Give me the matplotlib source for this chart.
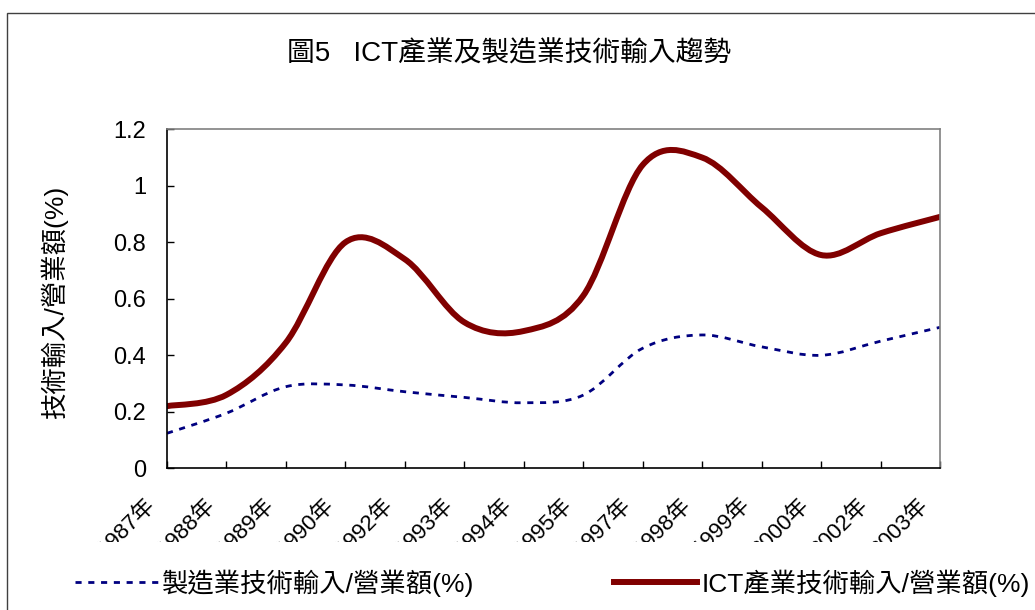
import numpy as np
import matplotlib
matplotlib.use("Agg")
import matplotlib.pyplot as plt
from matplotlib.path import Path
from matplotlib.patches import PathPatch, Rectangle
from matplotlib.lines import Line2D
from matplotlib.transforms import ScaledTranslation, Bbox, TransformedBbox

plt.rcParams['font.family'] = ['Liberation Sans', 'Noto Sans CJK TC', 'DejaVu Sans']

years = ["1987年", "1988年", "1989年", "1990年", "1992年", "1993年", "1994年",
         "1995年", "1997年", "1998年", "1999年", "2000年", "2002年", "2003年"]
mfg = [0.124, 0.195, 0.289, 0.295, 0.271, 0.251, 0.232,
       0.259, 0.425, 0.472, 0.43, 0.40, 0.45, 0.499]
ict = [0.22, 0.26, 0.445, 0.80, 0.74, 0.517, 0.486,
       0.611, 1.074, 1.10, 0.924, 0.755, 0.832, 0.89]
mfg_label = "製造業技術輸入/營業額(%)"
ict_label = "ICT產業技術輸入/營業額(%)"
title = "圖5   ICT產業及製造業技術輸入趨勢"
ylabel = "技術輸入/營業額(%)"


def smooth_path(xs, ys):
    # Excel-like smoothed line: cubic bezier through the points
    pts = np.column_stack([xs, ys]).astype(float)
    n = len(pts)
    verts = [pts[0]]
    codes = [Path.MOVETO]
    for i in range(n - 1):
        p0 = pts[i - 1] if i > 0 else pts[i]
        p1 = pts[i]
        p2 = pts[i + 1]
        p3 = pts[i + 2] if i + 2 < n else pts[i + 1]
        c1 = p1 + (p2 - p0) / 6.0
        c2 = p2 - (p3 - p1) / 6.0
        verts += [c1, c2, p2]
        codes += [Path.CURVE4] * 3
    return Path(verts, codes)


fig = plt.figure(figsize=(10.35, 6.1), dpi=100)
ax = fig.add_axes([167 / 1035, 1 - 468.3 / 610, 773 / 1035, 339 / 610])

x = np.arange(len(years))
ax.add_patch(PathPatch(smooth_path(x, mfg), facecolor='none', edgecolor='#000080',
                       lw=2.0, linestyle=(0, (2.2, 2.4)), capstyle='butt'))
ax.add_patch(PathPatch(smooth_path(x, ict), facecolor='none', edgecolor='#800000',
                       lw=4.3, capstyle='round', joinstyle='round'))

ax.set_xlim(0, len(years) - 1)
ax.set_ylim(0, 1.2)
ax.set_yticks(np.arange(0, 1.21, 0.2))
ax.yaxis.set_major_formatter(matplotlib.ticker.FormatStrFormatter('%g'))
ax.set_xticks(x)
ax.set_xticklabels(years, rotation=45, ha='right', va='center', rotation_mode='anchor')

ax.tick_params(axis='y', direction='in', length=5, width=1, labelsize=17, pad=15)
ax.tick_params(axis='x', direction='in', length=5, width=1, labelsize=16, pad=24)
for s in ['left', 'bottom']:
    ax.spines[s].set_color('black')
    ax.spines[s].set_linewidth(1.2)
for s in ['top', 'right']:
    ax.spines[s].set_color('#808080')
    ax.spines[s].set_linewidth(1.2)

clip = TransformedBbox(Bbox([[0, 1 - 542 / 610], [1, 1]]), fig.transFigure)
for lab in ax.get_xticklabels():
    lab.set_transform(lab.get_transform() + ScaledTranslation(-0.15, 0, fig.dpi_scale_trans))
    lab.set_clip_box(clip)
    lab.set_clip_on(True)

ax.set_ylabel(ylabel, fontsize=19)
ax.yaxis.label.set_va('center')
ax.yaxis.set_label_coords((54 - 167) / 773, 1 - (302 - 129.3) / 339)

fig.text(509 / 1035, 1 - 54 / 610, title, fontsize=20, ha='center', va='center')

handles = [Line2D([], [], color='#000080', lw=2.0, linestyle=(0, (2.2, 2.4))),
           Line2D([], [], color='#800000', lw=4.3)]
fig.legend(handles, [mfg_label, ict_label], ncol=2, loc='center left',
           bbox_to_anchor=(75 / 1035, 1 - 583 / 610), frameon=False, fontsize=19,
           handlelength=3.15, handletextpad=0.15, columnspacing=5.3,
           borderpad=0, borderaxespad=0)

fig.add_artist(Rectangle((7 / 1035, -0.5), 2, 0.5 + 1 - 13 / 610, transform=fig.transFigure,
                         facecolor='none', edgecolor='#404040', lw=1.0))

fig.savefig("out.png", dpi=100)
